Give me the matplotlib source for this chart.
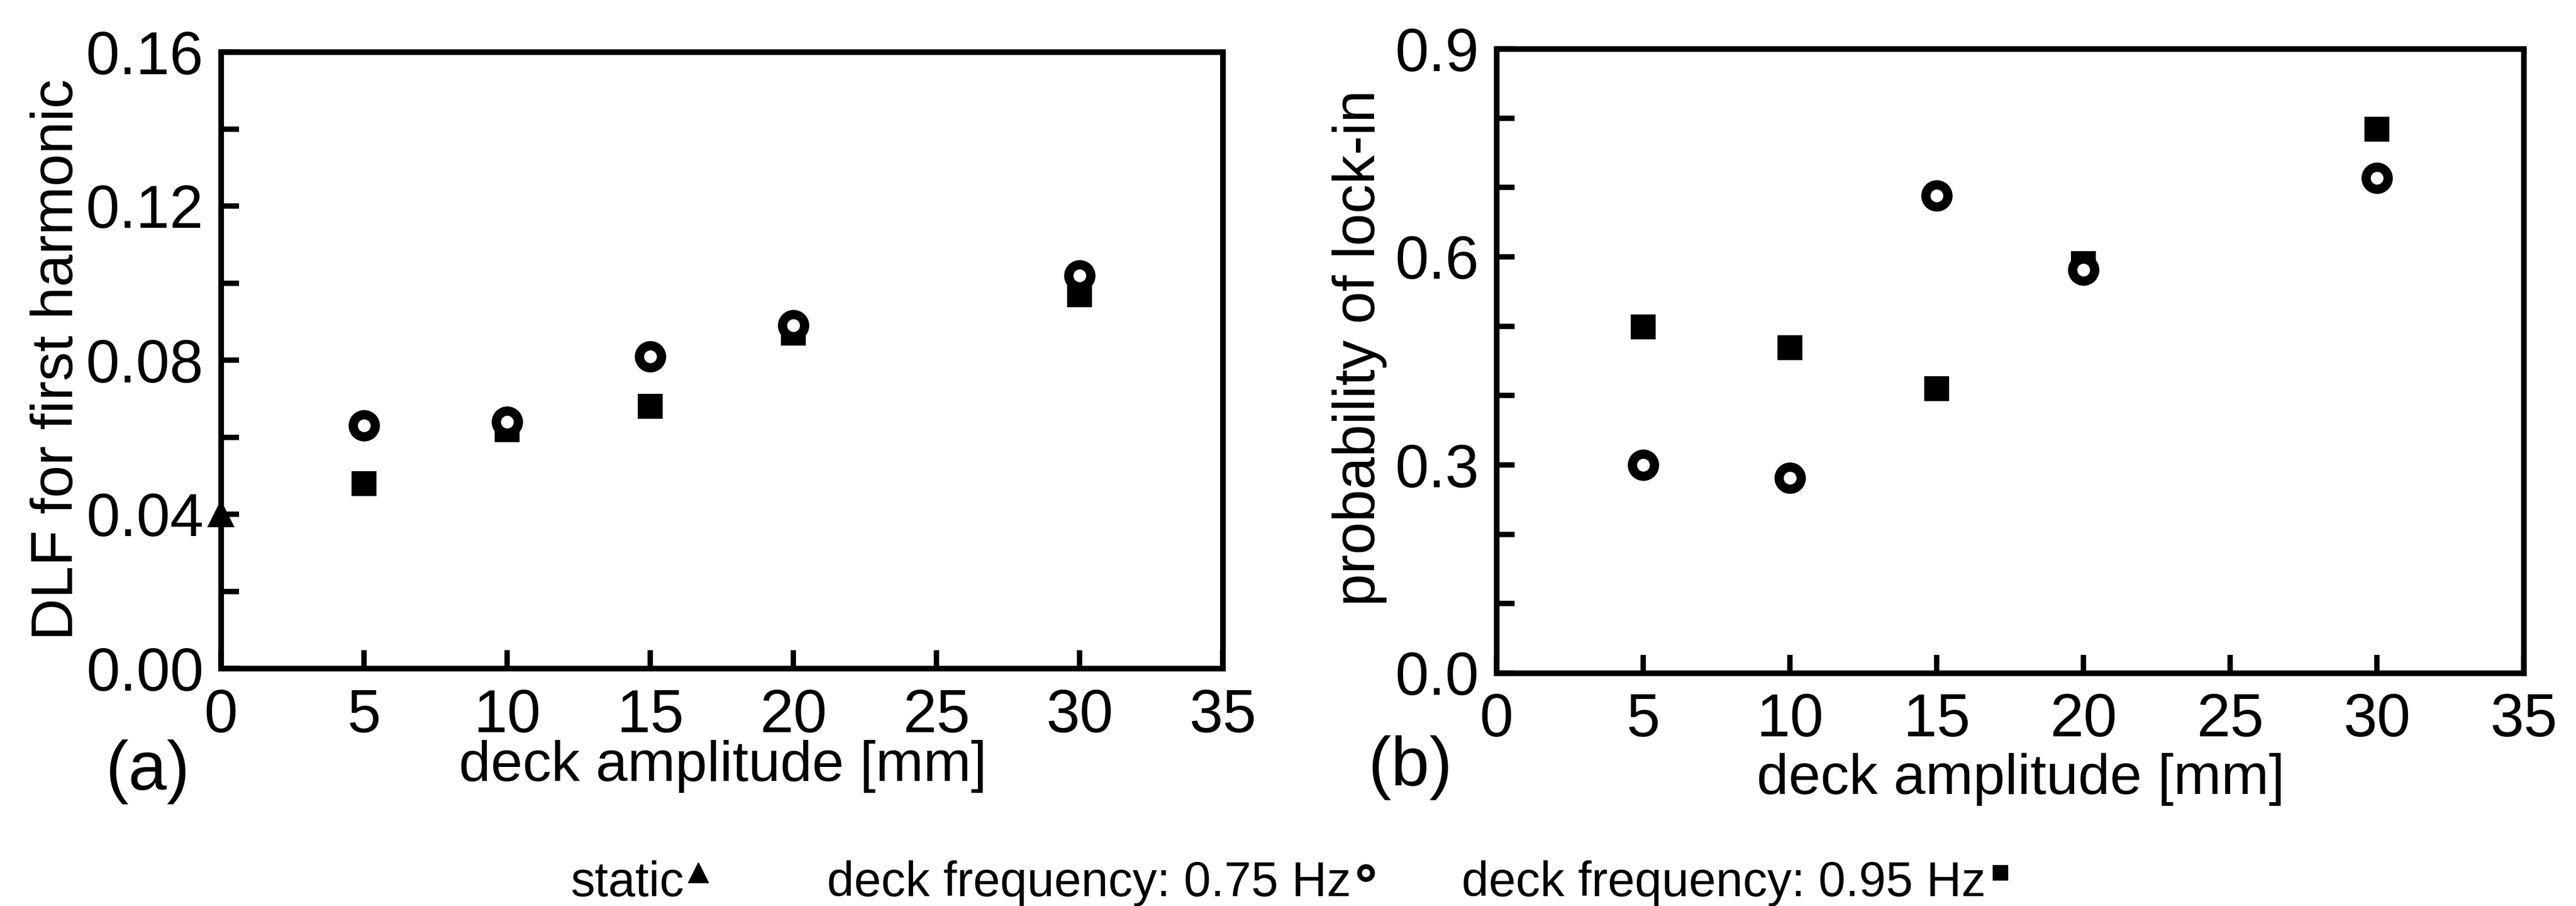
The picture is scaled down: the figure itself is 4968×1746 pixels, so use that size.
import matplotlib
matplotlib.use("Agg")
import matplotlib.pyplot as plt
from matplotlib.lines import Line2D
from matplotlib.ticker import MultipleLocator

plt.rcParams['font.family'] = ['Liberation Sans', 'DejaVu Sans']

# deck amplitude [mm]
amplitude = [5, 10, 15, 20, 30]

# (a) DLF for first harmonic
dlf_static_x = [0]
dlf_static = [0.040]
dlf_075 = [0.063, 0.064, 0.081, 0.089, 0.102]
dlf_095 = [0.048, 0.062, 0.068, 0.087, 0.097]

# (b) probability of lock-in
lock_075 = [0.300, 0.281, 0.688, 0.581, 0.714]
lock_095 = [0.499, 0.469, 0.410, 0.590, 0.784]

x_ticks = [0, 5, 10, 15, 20, 25, 30, 35]
dlf_ticks = [0.00, 0.04, 0.08, 0.12, 0.16]
lock_ticks = [0.0, 0.3, 0.6, 0.9]

W, H = 4968, 1746
fig = plt.figure(figsize=(W / 300, H / 300), dpi=300)

ax1 = fig.add_axes([426 / W, 1 - 1288 / H, (2358 - 426) / W, (1288 - 100) / H])
ax2 = fig.add_axes([2886 / W, 1 - 1297 / H, (4867 - 2886) / W, (1297 - 94) / H])

circ = dict(marker='o', ls='none', ms=10.2, mew=4.3, mfc='white', mec='black', zorder=5)
sq = dict(marker='s', ls='none', ms=11.2, mew=0.5, mfc='black', mec='black', zorder=4)

ax1.plot(amplitude, dlf_075, **circ)
ax1.plot(amplitude, dlf_095, **sq)
ax1.plot(dlf_static_x, dlf_static, marker='^', ls='none', ms=11, color='black',
         clip_on=False, zorder=6)

ax2.plot(amplitude, lock_075, **circ)
ax2.plot(amplitude, lock_095, **sq)

for ax, yt, ymax, ystep, fmt in [(ax1, dlf_ticks, 0.16, 0.02, '{:.2f}'),
                                 (ax2, lock_ticks, 0.9, 0.1, '{:.1f}')]:
    ax.set_xlim(0, 35)
    ax.set_ylim(0, ymax)
    ax.set_xticks(x_ticks)
    ax.set_yticks(yt)
    ax.set_yticklabels([fmt.format(v) for v in yt])
    ax.yaxis.set_minor_locator(MultipleLocator(ystep))
    ax.tick_params(axis='both', which='both', direction='in', length=8.5,
                   width=2.5, labelsize=28, top=False, right=False)
    ax.tick_params(axis='x', pad=9)
    ax.tick_params(axis='y', pad=8)
    for s in ax.spines.values():
        s.set_linewidth(2.6)

fig.text(111 / W, 1 - 693 / H, 'DLF for first harmonic', rotation=90,
         ha='center', va='center', fontsize=27)
fig.text(2622 / W, 1 - 671 / H, 'probability of lock-in', rotation=90,
         ha='center', va='center', fontsize=27)

fig.text(1394 / W, 1 - 1505 / H, 'deck amplitude [mm]', ha='center',
         va='baseline', fontsize=26.5)
fig.text(3897 / W, 1 - 1530 / H, 'deck amplitude [mm]', ha='center',
         va='baseline', fontsize=26.5)

fig.text(285 / W, 1 - 1488 / H, '(a)', ha='center', va='center', fontsize=32)
fig.text(2720 / W, 1 - 1480 / H, '(b)', ha='center', va='center', fontsize=32)

# legend row at the bottom: text followed by its marker
legend_items = [('static', 1100, 'left', '^', 'black', 9),
                ('deck frequency: 0.75 Hz', 1595, 'left', 'o', 'white', 6),
                ('deck frequency: 0.95 Hz', 3830, 'right', 's', 'black', 6.5)]
base_y = 1 - 1727 / H
texts = []
for label, x0, ha, *_ in legend_items:
    texts.append(fig.text(x0 / W, base_y, label, ha=ha, va='baseline',
                          fontsize=22.5))
fig.canvas.draw()
for t, (label, x0, ha, mk, fc, ms) in zip(texts, legend_items):
    bb = t.get_window_extent()
    mx = (bb.x1 + 28) / W
    my = 1 - 1682 / H
    fig.add_artist(Line2D([mx], [my], marker=mk, ms=ms, mfc=fc, mec='black',
                          mew=2.2 if fc == 'white' else 0.5, ls='none',
                          transform=fig.transFigure))

fig.savefig('out.png', dpi=300)
